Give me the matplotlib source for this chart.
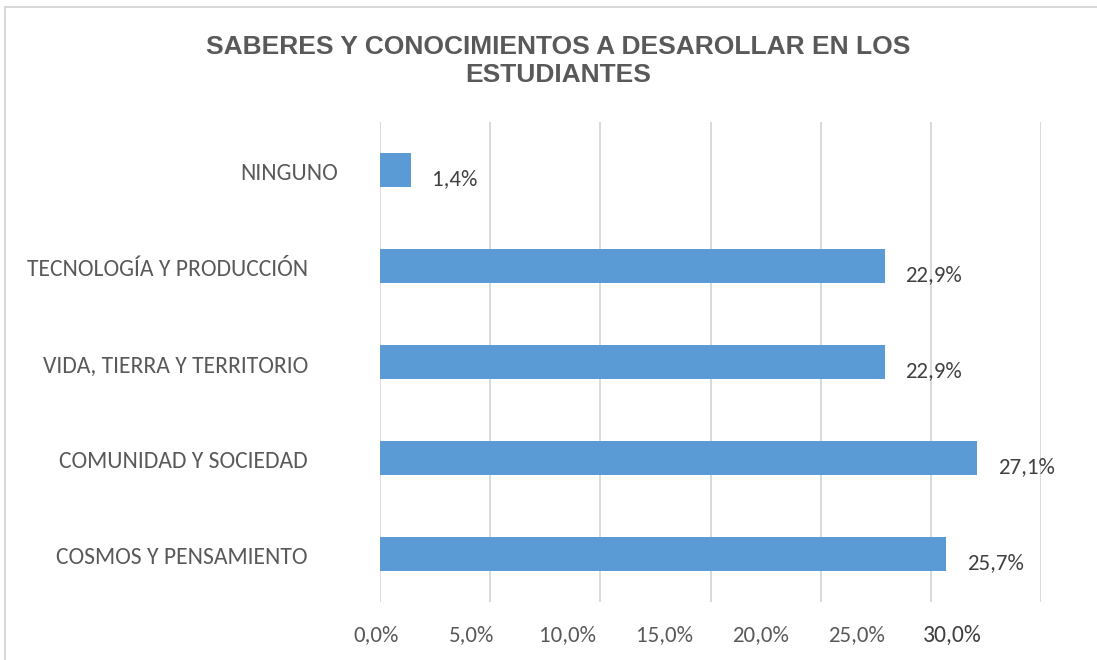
import matplotlib
matplotlib.use("Agg")
import matplotlib.pyplot as plt
from matplotlib.patches import Rectangle
from matplotlib.transforms import blended_transform_factory

# ── Data ──
categories = ["COSMOS Y PENSAMIENTO", "COMUNIDAD Y SOCIEDAD",
              "VIDA, TIERRA Y TERRITORIO", "TECNOLOGÍA Y PRODUCCIÓN", "NINGUNO"]
values = [25.7, 27.1, 22.9, 22.9, 1.4]
value_labels = ["25,7%", "27,1%", "22,9%", "22,9%", "1,4%"]
ticks = [0, 5, 10, 15, 20, 25, 30]
tick_labels = ["0,0%", "5,0%", "10,0%", "15,0%", "20,0%", "25,0%", "30,0%"]
title = "SABERES Y CONOCIMIENTOS A DESAROLLAR EN LOS\nESTUDIANTES"

BAR = "#5B9BD5"
GRID = "#D9D9D9"
TXT = "#595959"
TXT_DARK = "#404040"

plt.rcParams["font.family"] = ["Carlito", "Open Sans", "DejaVu Sans"]

W, H = 1097, 660
fig = plt.figure(figsize=(W / 100, H / 100), dpi=100)

# outer chart border (only top and left visible)
fig.patches.append(Rectangle((5 / W, -0.2), 1.2, 1.2 - 7 / H,
                             transform=fig.transFigure, fill=False,
                             edgecolor=GRID, linewidth=1.5))

ax = fig.add_axes([380 / W, 1 - 602 / H, 661 / W, 480 / H])
y = list(range(len(categories)))
ax.barh(y, values, height=0.36, color=BAR, zorder=3)

ax.set_xlim(0, 30)
ax.set_ylim(-0.5, len(categories) - 0.5)
ax.set_xticks(ticks)
ax.set_xticklabels([])
ax.set_yticks([])
ax.tick_params(length=0)
ax.grid(axis="x", color=GRID, linewidth=1.4, zorder=0)
for s in ax.spines.values():
    s.set_visible(False)

# category labels
ytr = blended_transform_factory(ax.transAxes, ax.transData)
for i, c in enumerate(categories):
    right = 338 if c == "NINGUNO" else 308
    ax.text((right - 380) / 661, i - 0.04, c, transform=ytr, ha="right",
            va="center", fontsize=17, color=TXT)

# value labels
for i, (v, lab) in enumerate(zip(values, value_labels)):
    ax.text(v + 0.95, i - 0.09, lab, ha="left", va="center",
            fontsize=16.5, color=TXT_DARK)

# x tick labels (drawn slightly compressed, as in the source)
xtr = blended_transform_factory(ax.transData, ax.transAxes)
for t, lab in zip(ticks, tick_labels):
    last = t == ticks[-1]
    ax.text(-0.2 + t * 0.873, -0.069, lab, transform=xtr, ha="center",
            va="center", fontsize=17 if last else 16.5,
            color=TXT_DARK if last else TXT)

fig.text(558 / W, 1 - 61 / H, title, ha="center", va="center",
         fontsize=19, fontweight="bold", color=TXT, linespacing=1.22,
         family=["Liberation Sans Narrow", "Liberation Sans"])

fig.savefig("out.png", dpi=100)
